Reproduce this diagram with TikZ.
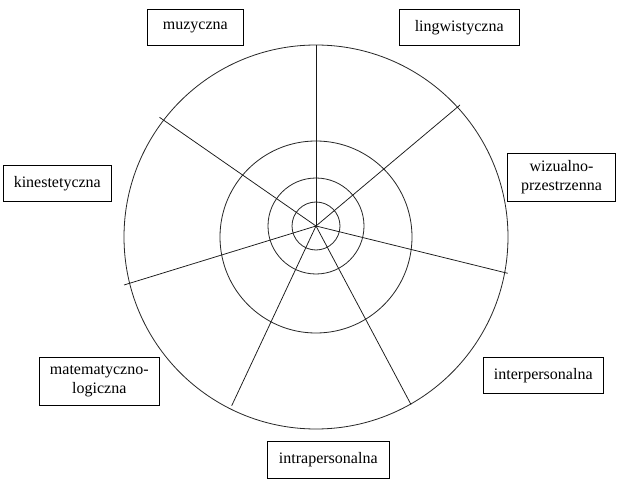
\documentclass[tikz,border=0pt]{standalone}
\usepackage{fontspec}
\setmainfont{Liberation Serif}
\newfontfamily\tnr{Liberation Serif}
\begin{document}
\begin{tikzpicture}[x=1pt,y=-1pt,
  ring/.style={line width=0.8pt, black!85},
  spoke/.style={line width=0.75pt, black!90},
  lbl/.style={draw, rectangle, line width=0.8pt, inner sep=0pt, align=center,
    font=\tnr\fontsize{16}{18.3}\selectfont}]
\useasboundingbox (0,0) rectangle (625,487);
\fill[white] (0,0) rectangle (625,487);
% centres
\coordinate (c) at (316,226);
\coordinate (o) at (316,237);
% rings
\draw[ring] (o) circle[radius=192pt];
\draw[ring] (o) circle[radius=96pt];
\draw[ring] (c) circle[radius=48pt];
\draw[ring] (c) circle[radius=24pt];
% spoke ends
\coordinate (s1) at (316,45);
\coordinate (s2) at (460,105);
\coordinate (s3) at (507.7,273.3);
\coordinate (s4) at (411,404.5);
\coordinate (s5) at (231.7,405.7);
\coordinate (s6) at (124,285);
\coordinate (s7) at (159.5,117.3);
\foreach \s in {s1,s2,s3,s4,s5,s6,s7} \draw[spoke] (c) -- (\s);
% labels
\node[lbl, minimum width=96pt, minimum height=36pt] (muz) at (195.3,27.3) {muzyczna};
\node[lbl, minimum width=119.7pt, minimum height=36pt] (lin) at (459.2,27.3) {lingwistyczna};
\node[lbl, minimum width=108pt, minimum height=36pt] (kin) at (57.3,183.3) {kinestetyczna};
\node[lbl, minimum width=107.6pt, minimum height=48pt] (wiz) at (561.5,177.3) {wizualno-\\przestrzenna};
\node[lbl, minimum width=120pt, minimum height=48pt] (mat) at (99.3,381.3) {matematyczno-\\logiczna};
\node[lbl, minimum width=120pt, minimum height=36pt] (inter) at (543.3,375.3) {interpersonalna};
\node[lbl, minimum width=122pt, minimum height=36.7pt] (intra) at (328.3,459.7) {intrapersonalna};
\end{tikzpicture}
\end{document}
